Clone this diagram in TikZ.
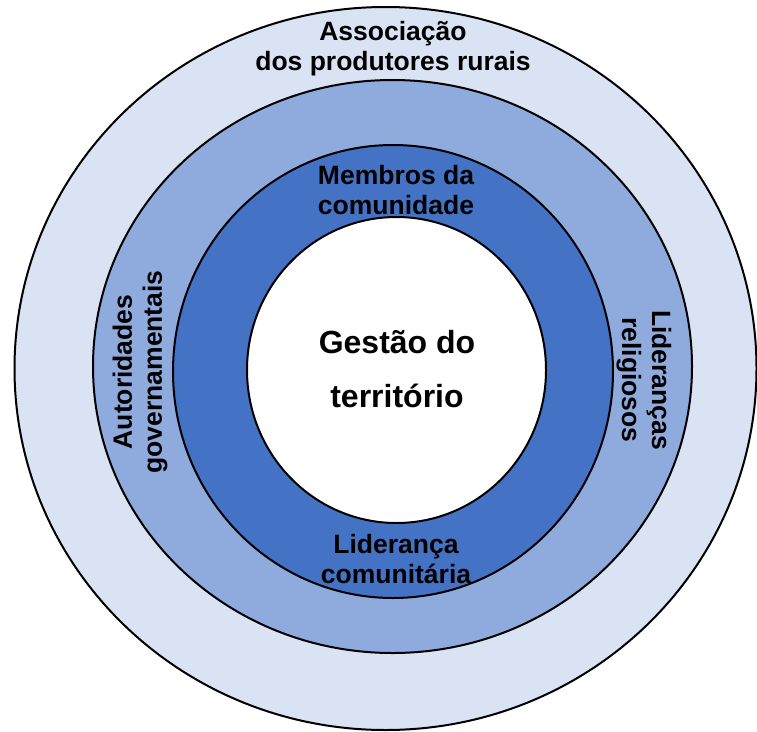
\documentclass[tikz,border=0pt]{standalone}
\usepackage{fontspec}
\setmainfont{Liberation Sans}
\definecolor{ringA}{HTML}{DAE3F3}
\definecolor{ringB}{HTML}{8FAADC}
\definecolor{ringC}{HTML}{4472C4}
\begin{document}
\begin{tikzpicture}[x=1pt,y=-1pt,
  ring/.style={draw=black, line width=2pt},
  lbl/.style={align=center, font=\bfseries\fontsize{26.5}{30}\selectfont, inner sep=0pt},
  biglbl/.style={align=center, font=\bfseries\fontsize{32}{54}\selectfont, inner sep=0pt}]
\useasboundingbox (0,0) rectangle (757,731);
\fill[white] (0,0) rectangle (757,731);
\draw[ring, fill=ringA] (385.5,368.5) ellipse [x radius=371pt, y radius=361.5pt];
\draw[ring, fill=ringB] (392.5,366.5) ellipse [x radius=299.5pt, y radius=286.5pt];
\draw[ring, fill=ringC] (393,371.5) ellipse [x radius=220pt, y radius=226.5pt];
\draw[ring, fill=white] (396.5,370) ellipse [x radius=149.5pt, y radius=153pt];
\node[lbl] (assoc) at (393,49) {Associação\\dos produtores rurais};
\node[lbl] (membros) at (396,190) {Membros da\\comunidade};
\node[lbl] (lider) at (396,559) {Liderança\\comunitária};
\node[biglbl] (gestao) at (397,369) {Gestão do\\território};
\node[lbl, rotate=90] (autor) at (140,372) {Autoridades\\governamentais};
\node[lbl, rotate=-90] (relig) at (644,380) {Lideranças\\religiosos};
\end{tikzpicture}
\end{document}
